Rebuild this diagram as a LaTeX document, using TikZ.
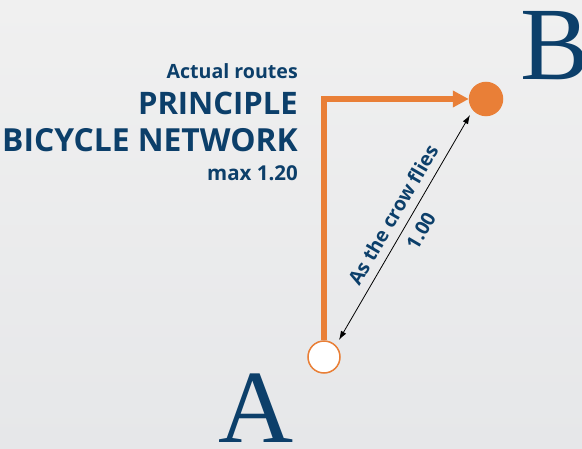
\documentclass[tikz,border=0pt]{standalone}
\usepackage{fontspec}
\setmainfont{Open Sans}
\newfontfamily\letterfont{Liberation Serif}
\usetikzlibrary{arrows.meta,calc}
\definecolor{navy}{HTML}{0C3F6A}
\definecolor{route}{HTML}{E97F37}
\definecolor{bgA}{HTML}{F0F0F0}
\definecolor{bgB}{HTML}{E6E7E9}
\tikzset{
  lbl/.style={text=navy, font=\bfseries, inner sep=0pt},
  bigletter/.style={text=navy, font=\letterfont\fontsize{104}{104}\selectfont, inner sep=0pt},
  stop/.style={circle, minimum size=32pt, inner sep=0pt, draw=route, line width=1.5pt},
  routeline/.style={route, line width=6pt, line join=miter, -{Triangle[length=16pt,width=16pt]}},
  crow/.style={black, line width=0.8pt, {Latex[length=9pt,width=6pt]}-{Latex[length=9pt,width=6pt]}},
  crowtext/.style={text=navy, font=\bfseries\fontsize{19.5}{19.5}\selectfont, inner sep=0pt, sloped}
}
\begin{document}
\begin{tikzpicture}[x=1pt,y=-1pt]
\useasboundingbox (0,0) rectangle (582,449);
\shade[top color=bgA, bottom color=bgB] (0,0) rectangle (582,449);
% left labels
\node[lbl, anchor=base east, font=\bfseries\fontsize{19.6}{20}\selectfont] (t1) at (298,79) {Actual routes};
\node[lbl, anchor=base east, font=\bfseries\fontsize{31}{31}\selectfont] (t2) at (298,115) {PRINCIPLE};
\node[lbl, anchor=base east, font=\bfseries\fontsize{31.8}{32}\selectfont] (t3) at (298,152) {BICYCLE NETWORK};
\node[lbl, anchor=base east, font=\bfseries\fontsize{20.5}{21}\selectfont] (t4) at (298,181) {max 1.20};
% stops
\node[stop, fill=white] (A) at (324,357) {};
\node[stop, fill=route, minimum size=33pt] (B) at (486,99) {};
% letters
\node[bigletter, anchor=base] (LA) at (256.5,443) {A};
\node[bigletter, anchor=base west] (LB) at (520,80) {B};
% route
\draw[routeline] (A.north) |- (B.west);
% crow line
\draw[crow] ([shift={(15,-17)}]A.center) -- ([shift={(-16,16)}]B.center)
  node[crowtext, pos=0.52, above=8.5pt] (c1) {As the crow flies}
  node[crowtext, pos=0.52, below=8.5pt] (c2) {1.00};
\end{tikzpicture}
\end{document}
